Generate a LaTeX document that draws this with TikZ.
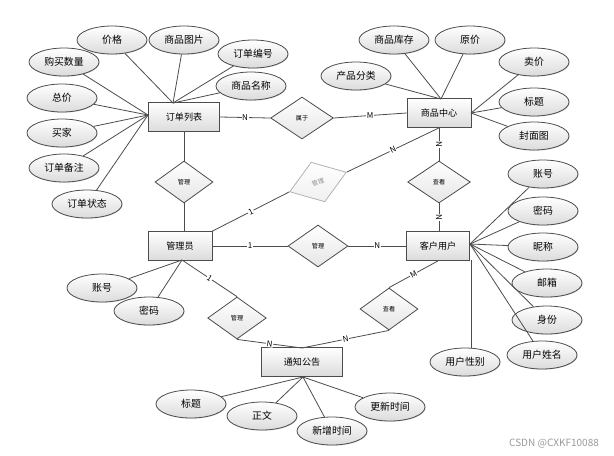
\documentclass[tikz,border=0pt]{standalone}
\usepackage{fontspec}
\setmainfont{Noto Sans CJK SC}
\usetikzlibrary{shapes.geometric,shadows}
\begin{document}
\begin{tikzpicture}[x=0.75pt,y=-0.75pt,
  every node/.style={inner sep=0pt},
  ent/.style={rectangle, draw=black!70, line width=0.6pt, top color=white, bottom color=black!14,
    drop shadow={shadow xshift=0.6pt, shadow yshift=-0.6pt, opacity=0.35},
    minimum height=21.75pt, font=\fontsize{6.8}{8}\selectfont},
  attr/.style={ellipse, draw=black!70, line width=0.6pt, top color=white, bottom color=black!14,
    drop shadow={shadow xshift=0.5pt, shadow yshift=-0.5pt, opacity=0.3},
    minimum width=52.5pt, minimum height=21pt, font=\fontsize{7.4}{8}\selectfont},
  rel/.style={diamond, draw=black!70, line width=0.6pt, top color=white, bottom color=black!10,
    aspect=1.4, minimum width=45pt, minimum height=31.5pt, font=\fontsize{4.6}{5}\selectfont},
  ln/.style={draw=black!70, line width=0.6pt},
  lbl/.style={fill=white, inner sep=0.5pt, font=\fontsize{6}{6}\selectfont}
]
\useasboundingbox (0,0) rectangle (614,455);

% entities
\node[ent, minimum width=53.25pt] (ol) at (184,117) {订单列表};
\node[ent, minimum width=48pt] (sp) at (439,113) {商品中心};
\node[ent, minimum width=48pt] (ad) at (180,246) {管理员};
\node[ent, minimum width=47.25pt] (cu) at (438,246) {客户用户};
\node[ent, minimum width=60.75pt] (tz) at (302,362) {通知公告};

% relationships
\node[rel, minimum width=47pt] (sy) at (302,118) {属于};
\node[rel, minimum width=43.5pt] (dmL) at (184,182) {管理};
\node[rel, rotate=19, draw=black!30, top color=white, bottom color=black!6, text=black!45] (gd) at (318,182) {管理};
\node[rel, minimum width=47pt] (ck) at (439,182) {查看};
\node[rel] (gm) at (318,246) {管理};
\node[rel, minimum width=44pt] (dmLL) at (237,318) {管理};
\node[rel, minimum width=43.5pt] (dmLR) at (389,309) {查看};

% attributes of 订单列表
\node[attr] (a1) at (112,40) {价格};
\node[attr] (a2) at (184,40) {商品图片};
\node[attr] (a3) at (253,54) {订单编号};
\node[attr] (a4) at (251,86) {商品名称};
\node[attr] (a5) at (64,62) {购买数量};
\node[attr] (a6) at (62,98) {总价};
\node[attr] (a7) at (62,133) {买家};
\node[attr] (a8) at (64,168) {订单备注};
\node[attr] (a9) at (87,204) {订单状态};

% attributes of 商品中心
\node[attr] (b1) at (394,40) {商品库存};
\node[attr] (b2) at (470,40) {原价};
\node[attr] (b3) at (356,76) {产品分类};
\node[attr] (b4) at (534,62) {卖价};
\node[attr] (b5) at (534,102) {标题};
\node[attr] (b6) at (534,136) {封面图};

% attributes of 客户用户
\node[attr] (c1) at (543,174) {账号};
\node[attr] (c2) at (543,211) {密码};
\node[attr] (c3) at (543,247) {昵称};
\node[attr] (c4) at (547,283) {邮箱};
\node[attr] (c5) at (547,320) {身份};
\node[attr] (c6) at (542,355) {用户姓名};
\node[attr] (c7) at (465,362) {用户性别};

% attributes of 管理员
\node[attr] (d1) at (102,288) {账号};
\node[attr] (d2) at (149,311) {密码};

% attributes of 通知公告
\node[attr] (e1) at (191,404) {标题};
\node[attr] (e2) at (262,416) {正文};
\node[attr] (e3) at (332,431) {新增时间};
\node[attr] (e4) at (390,407) {更新时间};

% convergence points
\coordinate (olT) at (173,103);
\coordinate (olL) at (148,115);
\coordinate (spT) at (441,99);
\coordinate (spR) at (471,113);
\coordinate (cuR) at (470,244);
\coordinate (cuB) at (471,260);
\coordinate (adB) at (182,260);
\coordinate (tzT) at (302,348);
\coordinate (tzB) at (303,377);

% attribute lines
\foreach \n in {a1,a2,a3,a4} \draw[ln] (\n) -- (olT);
\foreach \n in {a5,a6,a7,a8,a9} \draw[ln] (\n) -- (olL);
\foreach \n in {b1,b2,b3} \draw[ln] (\n) -- (spT);
\foreach \n in {b4,b5,b6} \draw[ln] (\n) -- (spR);
\foreach \n in {c1,c2,c3,c4,c5,c6} \draw[ln] (\n) -- (cuR);
\draw[ln] (c7.north -| cuB) -- (cuB);
\foreach \n in {d1,d2} \draw[ln] (\n) -- (adB);
\foreach \n in {e1,e2,e3,e4} \draw[ln] (\n) -- (tzB);

% relationship lines
\draw[ln] (ol.east) -- node[lbl] {N} (sy.west);
\draw[ln] (sy.east) -- node[lbl] {M} (sp.west);
\draw[ln] (ol.south) -- (dmL.north);
\draw[ln] (dmL.south) -- (dmL.south |- ad.north);
\draw[ln] (ad.north east) -- node[lbl, sloped] {1} (gd.west);
\draw[ln] (gd.east) -- node[lbl, sloped] {N} (sp.south);
\draw[ln] (sp.south) -- node[lbl, sloped] {N} (ck.north);
\draw[ln] (ck.south) -- node[lbl, sloped] {N} (ck.south |- cu.north);
\draw[ln] (ad.east) -- node[lbl] {1} (gm.west);
\draw[ln] (gm.east) -- node[lbl] {N} (cu.west);
\draw[ln] (adB) -- node[lbl, sloped] {1} (dmLL.north);
\draw[ln] (dmLL.south) -- node[lbl, sloped] {N} (tzT);
\draw[ln] (cu.south) -- node[lbl, sloped] {M} (dmLR.north);
\draw[ln] (dmLR.south) -- node[lbl, sloped] {N} (tzT);

% watermark
\node[text=black!40, font=\fontsize{7.5}{8}\selectfont] (wm) at (554,444) {CSDN @CXKF10088};
\end{tikzpicture}
\end{document}
